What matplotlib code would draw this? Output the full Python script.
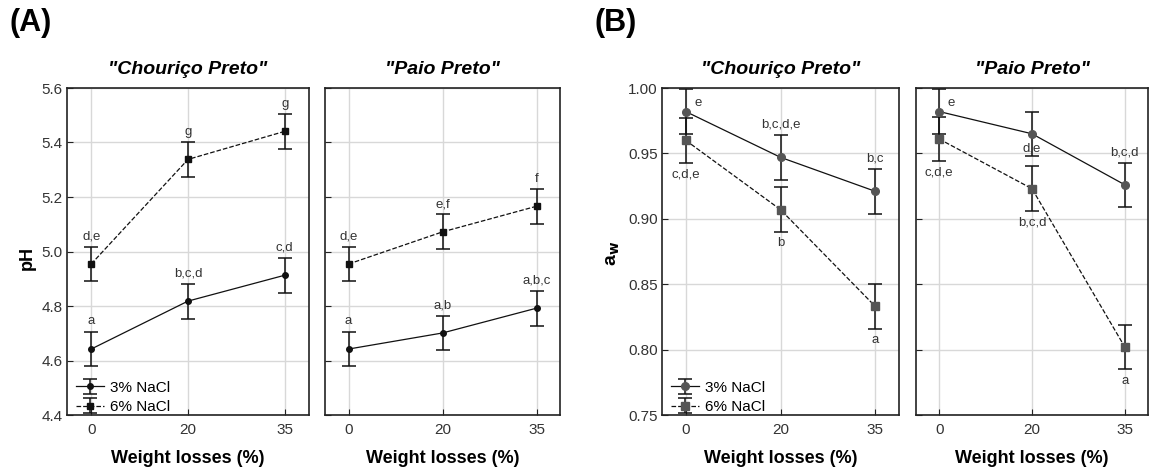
import numpy as np
import matplotlib
matplotlib.use("Agg")
import matplotlib.pyplot as plt

plt.rcParams['font.family'] = ['Liberation Sans', 'DejaVu Sans']

# --- DATA ---
weight_losses = ['0', '20', '35']
products = ['"Chouriço Preto"', '"Paio Preto"']
series_names = ['3% NaCl', '6% NaCl']

# pH (panel A)
ph_choirico_3 = [4.642, 4.818, 4.913]
ph_choirico_6 = [4.954, 5.338, 5.441]
ph_paio_3 = [4.642, 4.701, 4.792]
ph_paio_6 = [4.954, 5.072, 5.166]
ph_err = 0.064

ph_lbl_choirico_3 = ['a', 'b,c,d', 'c,d']
ph_lbl_choirico_6 = ['d,e', 'g', 'g']
ph_lbl_paio_3 = ['a', 'a,b', 'a,b,c']
ph_lbl_paio_6 = ['d,e', 'e,f', 'f']

# water activity (panel B)
aw_choirico_3 = [0.982, 0.947, 0.921]
aw_choirico_6 = [0.960, 0.907, 0.833]
aw_paio_3 = [0.982, 0.965, 0.926]
aw_paio_6 = [0.961, 0.923, 0.802]
aw_err = 0.017

aw_lbl_choirico_3 = ['e', 'b,c,d,e', 'b,c']
aw_lbl_choirico_6 = ['c,d,e', 'b', 'a']
aw_lbl_paio_3 = ['e', 'd,e', 'b,c,d']
aw_lbl_paio_6 = ['c,d,e', 'b,c,d', 'a']

# where each letter label sits relative to its point
pos_a3 = ['above', 'above', 'above']
pos_a6 = ['above', 'above', 'above']
pos_b1_3 = ['right', 'above', 'above']
pos_b2_3 = ['right', 'under', 'above']
pos_b6 = ['below', 'below', 'below']

W, H = 1150, 469
fig = plt.figure(figsize=(W / 100, H / 100), dpi=100)


def box(x0, x1, y0=88, y1=415):
    return [x0 / W, 1 - y1 / H, (x1 - x0) / W, (y1 - y0) / H]


ax_a1 = fig.add_axes(box(67, 309))
ax_a2 = fig.add_axes(box(325, 560))
ax_b1 = fig.add_axes(box(662, 899))
ax_b2 = fig.add_axes(box(916, 1148))

x = np.arange(len(weight_losses))
txt_col = '#333333'


def label_points(ax, yv, err, labels, places):
    for xi, yi, lb, pl in zip(x, yv, labels, places):
        if pl == 'above':
            ax.annotate(lb, (xi, yi + err), xytext=(0, 3), textcoords='offset points',
                        ha='center', va='bottom', fontsize=9.5, color=txt_col)
        elif pl == 'below':
            ax.annotate(lb, (xi, yi - err), xytext=(0, -4), textcoords='offset points',
                        ha='center', va='top', fontsize=9.5, color=txt_col)
        elif pl == 'right':
            ax.annotate(lb, (xi, yi), xytext=(6, 6), textcoords='offset points',
                        ha='left', va='center', fontsize=9.5, color=txt_col)
        elif pl == 'under':
            ax.annotate(lb, (xi, yi), xytext=(0, -6), textcoords='offset points',
                        ha='center', va='top', fontsize=9.5, color=txt_col)


def setup(ax, ylim, yticks, title, show_y):
    ax.set_xlim(-0.25, 2.25)
    ax.set_ylim(*ylim)
    ax.set_xticks(x)
    ax.set_xticklabels(weight_losses, fontsize=11, color=txt_col)
    ax.set_yticks(yticks)
    if show_y:
        ax.set_yticklabels([f'{t:.1f}' if ylim[1] > 2 else f'{t:.2f}' for t in yticks],
                           fontsize=11, color=txt_col)
    else:
        ax.set_yticklabels([])
    ax.tick_params(direction='in', length=4, color='#222222')
    ax.tick_params(axis='x', pad=6)
    ax.tick_params(axis='y', pad=3)
    ax.grid(True, color='#d8d8d8', linewidth=1)
    ax.set_axisbelow(True)
    for s in ax.spines.values():
        s.set_linewidth(1.2)
        s.set_color('#222222')
    ax.set_title(title, fontsize=14, fontweight='bold', style='italic', pad=10)
    ax.set_xlabel('Weight losses (%)', fontsize=13, fontweight='bold', labelpad=9)


def draw(ax, y3, y6, err, mcol, ms3, ms6):
    h3 = ax.errorbar(x, y3, yerr=err, fmt='-o', color='#111111', mfc=mcol, mec=mcol,
                     ms=ms3, lw=0.9, elinewidth=1.1, capsize=5, capthick=1.1, label=series_names[0])
    h6 = ax.errorbar(x, y6, yerr=err, fmt='--s', color='#111111', mfc=mcol, mec=mcol,
                     ms=ms6, lw=0.9, elinewidth=1.1, capsize=5, capthick=1.1, label=series_names[1])
    return h3, h6


def add_legend(ax, handles):
    w = ax.get_position().width * W
    ax.legend(handles=handles, loc='lower left', bbox_to_anchor=(6 / w, -2 / 327),
              frameon=False, fontsize=11, handlelength=1.8, handletextpad=0.45,
              borderaxespad=0.0, borderpad=0.2, labelspacing=0.35)


ph_ticks = [4.4, 4.6, 4.8, 5.0, 5.2, 5.4, 5.6]
aw_ticks = [0.75, 0.80, 0.85, 0.90, 0.95, 1.00]

# Panel A
for ax, y3, y6, l3, l6, prod, sy in [
        (ax_a1, ph_choirico_3, ph_choirico_6, ph_lbl_choirico_3, ph_lbl_choirico_6, products[0], True),
        (ax_a2, ph_paio_3, ph_paio_6, ph_lbl_paio_3, ph_lbl_paio_6, products[1], False)]:
    setup(ax, (4.4, 5.6), ph_ticks, prod, sy)
    h = draw(ax, y3, y6, ph_err, '#111111', 4, 4.5)
    label_points(ax, y3, ph_err, l3, pos_a3)
    label_points(ax, y6, ph_err, l6, pos_a6)
    if sy:
        add_legend(ax, h)

# Panel B
for ax, y3, y6, l3, l6, p3, prod, sy in [
        (ax_b1, aw_choirico_3, aw_choirico_6, aw_lbl_choirico_3, aw_lbl_choirico_6, pos_b1_3, products[0], True),
        (ax_b2, aw_paio_3, aw_paio_6, aw_lbl_paio_3, aw_lbl_paio_6, pos_b2_3, products[1], False)]:
    setup(ax, (0.75, 1.00), aw_ticks, prod, sy)
    h = draw(ax, y3, y6, aw_err, '#555555', 5.5, 5.5)
    label_points(ax, y3, aw_err, l3, p3)
    label_points(ax, y6, aw_err, l6, pos_b6)
    if sy:
        add_legend(ax, h)

fig.text(27 / W, 1 - 258 / H, 'pH', rotation=90, ha='center', va='center',
         fontsize=13, fontweight='bold')
fig.text(613 / W, 1 - 253 / H, r'a$_{\mathbf{w}}$', rotation=90, ha='center', va='center',
         fontsize=14, fontweight='bold')
fig.text(31 / W, 1 - 23 / H, '(A)', ha='center', va='center', fontsize=22, fontweight='bold')
fig.text(616 / W, 1 - 23 / H, '(B)', ha='center', va='center', fontsize=22, fontweight='bold')

fig.savefig('out.png', dpi=100)
